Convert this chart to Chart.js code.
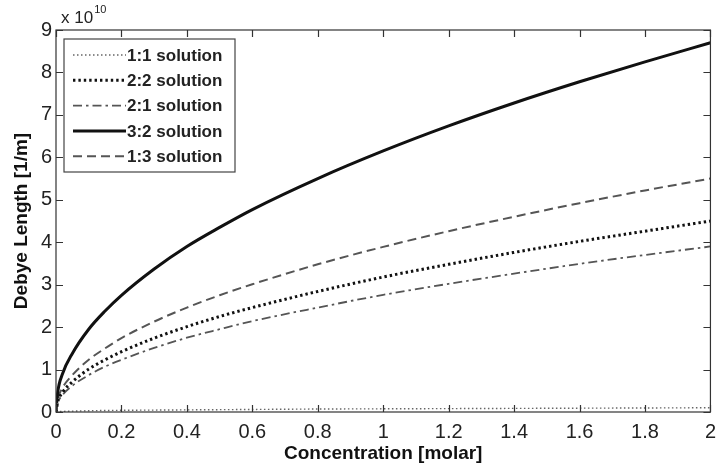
<!DOCTYPE html>
<html>
<head>
<meta charset="utf-8">
<script src="https://cdn.jsdelivr.net/npm/chart.js@4"></script>
<style>
  html, body { margin: 0; padding: 0; background: #fff; }
  #wrap { width: 724px; height: 468px; }
</style>
</head>
<body>
<div id="wrap"><canvas id="debyeChart" width="724" height="468"></canvas></div>
<script>
// concentration [molar] sample points
const conc = [0, 0.005, 0.02, 0.05, 0.1, 0.15, 0.2, 0.3, 0.4, 0.5, 0.6, 0.8, 1.0, 1.2, 1.4, 1.6, 1.8, 2.0];

// Debye length values, in units of 1e10
const sol11 = [0, 0.01, 0.015, 0.02, 0.03, 0.035, 0.04, 0.045, 0.05, 0.055, 0.06, 0.07, 0.075, 0.08, 0.085, 0.09, 0.095, 0.1];
const sol22 = [0, 0.23, 0.46, 0.71, 1.01, 1.23, 1.42, 1.74, 2.01, 2.25, 2.46, 2.84, 3.18, 3.48, 3.76, 4.02, 4.26, 4.5];
const sol21 = [0, 0.2, 0.4, 0.62, 0.87, 1.07, 1.23, 1.51, 1.75, 1.95, 2.14, 2.46, 2.76, 3.02, 3.26, 3.49, 3.7, 3.9];
const sol32 = [0, 0.45, 0.9, 1.38, 1.95, 2.38, 2.75, 3.37, 3.9, 4.35, 4.77, 5.5, 6.15, 6.74, 7.28, 7.78, 8.25, 8.7];
const sol13 = [0, 0.28, 0.57, 0.87, 1.23, 1.5, 1.74, 2.13, 2.46, 2.75, 3.01, 3.48, 3.89, 4.26, 4.6, 4.92, 5.22, 5.5];

const xTicks = [0, 0.2, 0.4, 0.6, 0.8, 1, 1.2, 1.4, 1.6, 1.8, 2];
const yTicks = [0, 1, 2, 3, 4, 5, 6, 7, 8, 9];

const fontFam = '"Liberation Sans", Arial, sans-serif';

function pts(ys) {
    return conc.map((x, i) => ({ x: x, y: ys[i] }));
}

// MATLAB-like frame with inward ticks on all four sides
const framePlugin = {
    id: 'frame',
    afterDraw(chart) {
        const ctx = chart.ctx;
        const a = chart.chartArea;
        const xs = chart.scales.x, ys = chart.scales.y;
        const len = 7;
        ctx.save();
        ctx.strokeStyle = '#333';
        ctx.lineWidth = 1.2;
        ctx.strokeRect(a.left, a.top, a.right - a.left, a.bottom - a.top);
        ctx.beginPath();
        xTicks.forEach(v => {
            const px = Math.round(xs.getPixelForValue(v)) + 0.5;
            ctx.moveTo(px, a.bottom); ctx.lineTo(px, a.bottom - len);
            ctx.moveTo(px, a.top); ctx.lineTo(px, a.top + len);
        });
        yTicks.forEach(v => {
            const py = Math.round(ys.getPixelForValue(v)) + 0.5;
            ctx.moveTo(a.left, py); ctx.lineTo(a.left + len, py);
            ctx.moveTo(a.right, py); ctx.lineTo(a.right - len, py);
        });
        ctx.stroke();

        // exponent label
        ctx.fillStyle = '#222';
        ctx.textBaseline = 'alphabetic';
        ctx.font = '17px ' + fontFam;
        ctx.fillText('x 10', a.left + 5, a.top - 7);
        const w = ctx.measureText('x 10').width;
        ctx.font = '11px ' + fontFam;
        ctx.fillText('10', a.left + 5 + w + 1, a.top - 17);
        ctx.restore();
    }
};

// legend box drawn inside the plot, top left
const legendPlugin = {
    id: 'boxLegend',
    afterDraw(chart) {
        const ctx = chart.ctx;
        const a = chart.chartArea;
        const bx = a.left + 8, by = a.top + 9, bw = 171, bh = 133;
        ctx.save();
        ctx.fillStyle = '#fff';
        ctx.fillRect(bx, by, bw, bh);
        ctx.strokeStyle = '#444';
        ctx.lineWidth = 1.2;
        ctx.strokeRect(bx, by, bw, bh);
        chart.data.datasets.forEach((ds, i) => {
            const y = by + 16 + i * 25.3;
            ctx.beginPath();
            ctx.setLineDash(ds.borderDash || []);
            ctx.strokeStyle = ds.borderColor;
            ctx.lineWidth = ds.borderWidth;
            ctx.moveTo(bx + 9, y);
            ctx.lineTo(bx + 62, y);
            ctx.stroke();
            ctx.setLineDash([]);
            ctx.fillStyle = '#222';
            ctx.font = 'bold 17px ' + fontFam;
            ctx.textBaseline = 'middle';
            ctx.fillText(ds.label, bx + 63, y + 1);
        });
        ctx.restore();
    }
};

new Chart(document.getElementById('debyeChart').getContext('2d'), {
    type: 'line',
    data: {
        datasets: [
            { label: '1:1 solution', data: pts(sol11), borderColor: '#666', borderWidth: 1.4, borderDash: [1.5, 2.5] },
            { label: '2:2 solution', data: pts(sol22), borderColor: '#111', borderWidth: 3, borderDash: [2.4, 3] },
            { label: '2:1 solution', data: pts(sol21), borderColor: '#555', borderWidth: 1.8, borderDash: [9, 4, 2.5, 4] },
            { label: '3:2 solution', data: pts(sol32), borderColor: '#111', borderWidth: 3, borderDash: [] },
            { label: '1:3 solution', data: pts(sol13), borderColor: '#555', borderWidth: 2, borderDash: [9, 5] }
        ]
    },
    options: {
        responsive: false,
        animation: false,
        events: [],
        elements: {
            point: { radius: 0 },
            line: { cubicInterpolationMode: 'monotone', fill: false }
        },
        layout: { padding: { top: 30, right: 3, left: 0, bottom: 0 } },
        plugins: {
            legend: { display: false },
            tooltip: { enabled: false }
        },
        scales: {
            x: {
                type: 'linear',
                min: 0,
                max: 2,
                grid: { display: false, drawTicks: false },
                border: { display: false },
                afterBuildTicks: s => { s.ticks = xTicks.map(v => ({ value: v })); },
                afterFit: s => { s.height = 56; },
                ticks: {
                    color: '#222',
                    padding: 8,
                    maxRotation: 0,
                    font: { family: fontFam, size: 20 },
                    callback: v => String(v)
                },
                title: {
                    display: true,
                    text: 'Concentration [molar]',
                    color: '#111',
                    padding: { top: 0, bottom: 3 },
                    font: { family: fontFam, size: 19, weight: 'bold' }
                }
            },
            y: {
                min: 0,
                max: 9,
                grid: { display: false, drawTicks: false },
                border: { display: false },
                afterBuildTicks: s => { s.ticks = yTicks.map(v => ({ value: v })); },
                afterFit: s => { s.width = 56; },
                ticks: {
                    color: '#222',
                    padding: 4,
                    font: { family: fontFam, size: 20 },
                    callback: v => String(v)
                },
                title: {
                    display: true,
                    text: 'Debye Length [1/m]',
                    color: '#111',
                    padding: { top: 10, bottom: 0 },
                    font: { family: fontFam, size: 19, weight: 'bold' }
                }
            }
        }
    },
    plugins: [framePlugin, legendPlugin]
});
</script>
</body>
</html>
